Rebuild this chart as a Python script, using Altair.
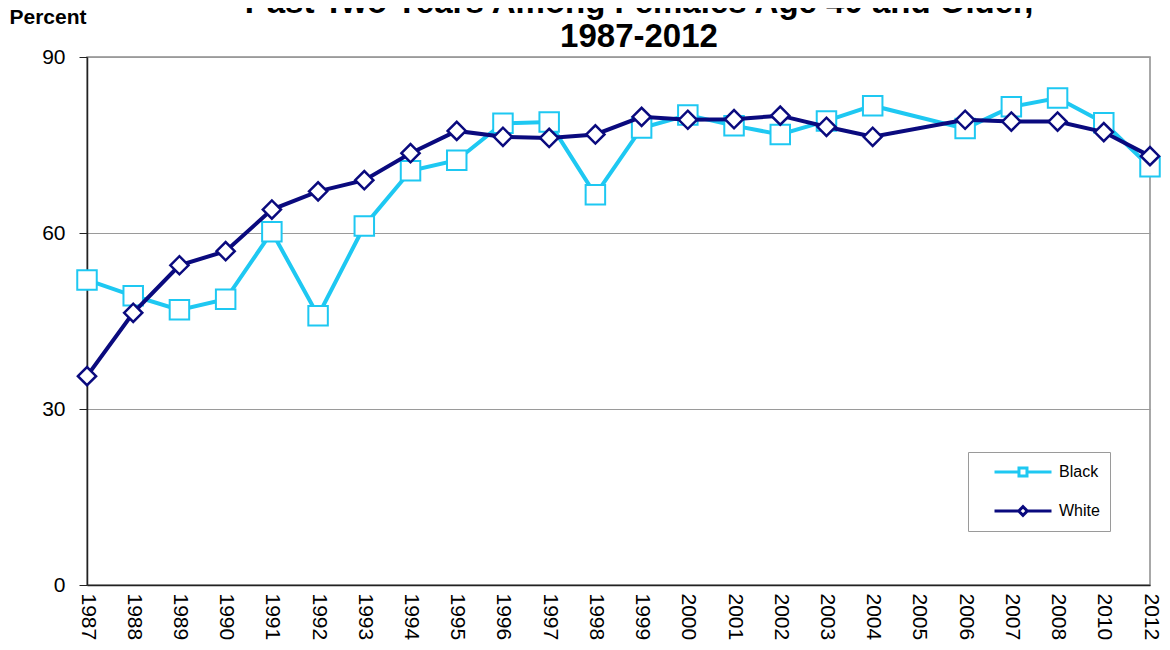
import altair as alt
import pandas as pd

# ---- data ----
axis_years = [str(y) for y in range(1987, 2009)] + ["2010", "2012"]
data_years = [y for y in axis_years if y != "2005"]
black_values = [52.0, 49.3, 46.9, 48.7, 60.2, 45.9, 61.2, 70.6, 72.4, 78.7, 78.9,
                66.5, 77.9, 80.1, 78.3, 76.8, 79.1, 81.7, 77.8, 81.5, 83.0, 78.8, 71.3]
white_values = [35.6, 46.4, 54.5, 56.9, 64.0, 67.1, 69.0, 73.6, 77.4, 76.4, 76.2,
                76.8, 79.8, 79.3, 79.4, 80.0, 78.1, 76.4, 79.3, 79.0, 79.0, 77.2, 73.1]
series_names = ["Black", "White"]
series_colors = ["#1EC8F2", "#0A0A7E"]
title_lines = ["Past Two Years Among Females Age 40 and Older,", "1987-2012"]
y_ticks = [0, 30, 60, 90]

rows = []
for yr, b, w in zip(data_years, black_values, white_values):
    rows.append({"year": yr, "series": "Black", "value": b})
    rows.append({"year": yr, "series": "White", "value": w})
df = pd.DataFrame(rows)

FONT = "Liberation Sans"

x_enc = alt.X(
    "year:O",
    scale=alt.Scale(domain=axis_years, padding=0),
    sort=axis_years,
    axis=alt.Axis(title=None, labelAngle=90, labelFontSize=21, labelPadding=8,
                  ticks=False, domainColor="#222222", domainWidth=1.5,
                  labelColor="#000000", grid=False, labelFont=FONT),
)
y_enc = alt.Y(
    "value:Q",
    scale=alt.Scale(domain=[0, 90], nice=False, zero=True),
    axis=alt.Axis(values=y_ticks, title="Percent", titleAngle=0, titleX=-78, titleY=-34,
                  titleAlign="left", titleBaseline="alphabetic", titleFontSize=21,
                  titleFontWeight="bold", titleFont=FONT, titleColor="#000000",
                  labelFontSize=21, labelPadding=14, tickSize=8, tickColor="#222222",
                  domainColor="#222222", domainWidth=1.5, gridColor="#9a9a9a",
                  gridWidth=1, labelColor="#000000", labelFont=FONT),
)

base = alt.Chart(df)


def series_layers(name, color, shape, size, stroke_w):
    sub = base.transform_filter(alt.datum.series == name)
    line = sub.mark_line(strokeWidth=4, color=color).encode(x=x_enc, y=y_enc)
    pts = sub.mark_point(shape=shape, size=size, filled=False, fill="white",
                         stroke=color, strokeWidth=stroke_w, opacity=1).encode(
        x=x_enc, y=y_enc)
    return [line, pts]


legend_paths = [
    "M-0.583,0H0.097M0.319,0H1M0.097,-0.111H0.319V0.111H0.097Z",
    "M-0.583,0H0.088M0.328,0H1M0.088,0L0.208,-0.12L0.328,0L0.208,0.12Z",
]
legend_def = alt.Legend(
    title=None, orient="none", legendX=881, legendY=395, padding=10,
    strokeColor="#9a9a9a", fillColor="white", symbolSize=5184,
    symbolStrokeWidth=3, symbolFillColor="white", labelFontSize=16,
    labelFont=FONT, labelColor="#000000", labelOffset=6, clipHeight=20,
    rowPadding=19,
)
helper = base.transform_filter("datum.value < 0").mark_point(
    filled=False, fill="white", opacity=1, strokeWidth=3
).encode(
    color=alt.Color("series:N", scale=alt.Scale(domain=series_names, range=series_colors),
                    legend=legend_def),
    shape=alt.Shape("series:N", scale=alt.Scale(domain=series_names, range=legend_paths),
                    legend=legend_def),
)

title_df = pd.DataFrame({"t": [0]})
title = alt.Chart(title_df).mark_text(
    text=title_lines, fontSize=33, fontWeight="bold", font=FONT, align="center",
    baseline="alphabetic", lineHeight=34, color="#000000",
).encode(x=alt.value(552), y=alt.value(-44))

layers = (series_layers("Black", series_colors[0], "square", 380, 2)
          + series_layers("White", series_colors[1], "diamond", 330, 2.5))

chart = alt.layer(*layers, helper, title).properties(
    width=1063, height=528,
    autosize=alt.AutoSizeParams(type="none"),
    padding={"left": 79, "top": 49, "right": 12, "bottom": 55},
    background="white",
).configure_view(stroke="#8c8c8c", strokeWidth=1.5)

chart.save("out.html", embed_options={"renderer": "svg", "actions": False})
